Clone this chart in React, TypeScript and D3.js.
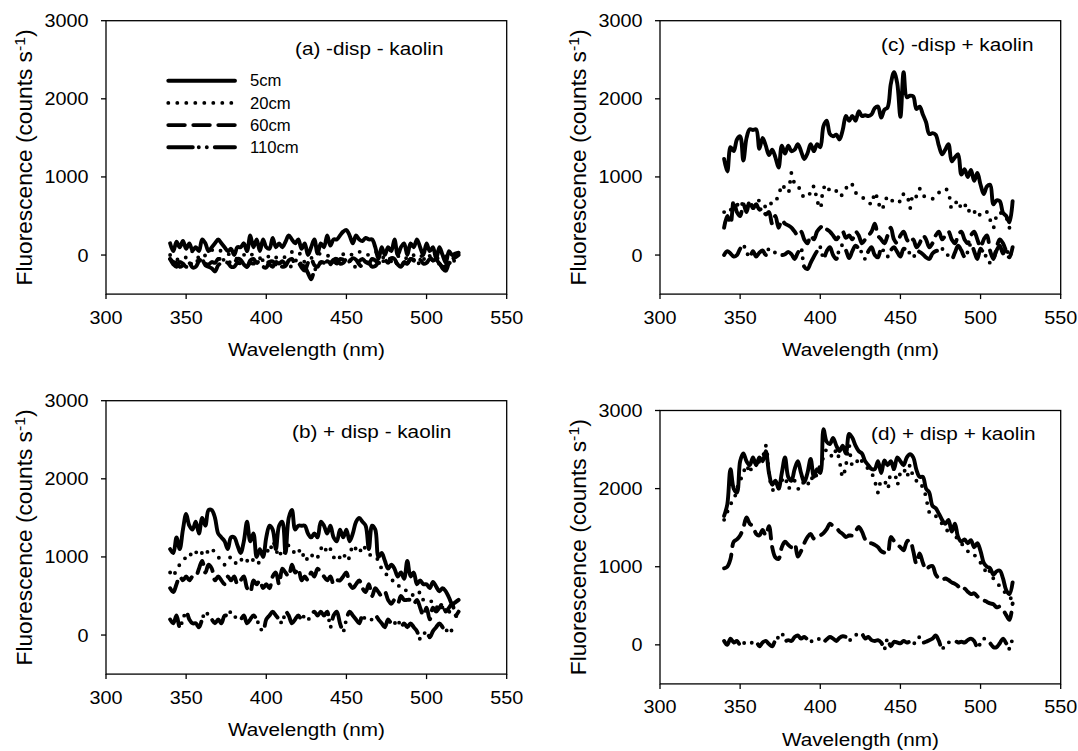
import React from "react";
import * as d3 from "d3";

// Wavelength grid (nm) shared by every series
const WAVELENGTH: number[] = d3.range(340, 521, 2);
const X_TICKS = [300, 350, 400, 450, 500, 550];
const Y_TICKS = [0, 1000, 2000, 3000];
const X_DOMAIN = [300, 550];
const Y_DOMAIN = [-500, 3000];
const DEPTHS = ["5cm", "20cm", "60cm", "110cm"];
const X_LABEL = "Wavelength (nm)";

// (a) -disp - kaolin
const A_5CM = [
  150, 50, 170, 100, 180, 80, 150, 60, 100, 50,
  200, 150, 50, 100, 150, 200, 150, 100, 50, 80,
  0, 100, 100, 150, 50, 250, 100, 200, 50, 200,
  100, 80, 220, 100, 150, 100, 170, 250, 200, 150,
  200, 80, 150, 0, 100, 200, 20, 150, 100, 250,
  120, 200, 200, 250, 300, 320, 250, 150, 250, 200,
  180, 220, 200, 200, 100, -50, 100, 0, 100, 50,
  200, 0, 100, 150, 0, 150, 100, 200, 100, 0,
  150, 50, 100, -50, 100, 0, -100, 50, 0, 20,
  30,
];
const A_20CM = [
  0, -30, -60, -40, -20, -30, 10, 50, 20, -40,
  -50, 0, 30, 60, 80, 70, 50, 40, 20, -10,
  -30, -50, -40, 0, 30, 20, -10, -30, -40, -50,
  -40, -10, 0, -30, -50, -40, -20, 10, 40, 50,
  40, -20, -90, -80, -40, -20, 0, 20, 10, -10,
  0, -30, -50, -20, 10, 30, 20, 0, 20, 40,
  40, 20, 0, 20, 40, 30, -10, -50, -70, -80,
  -60, -20, 0, -20, -50, -40, 0, 20, 0, -30,
  -30, -10, 0, -30, -50, -40, -20, -20, 0, 10,
  20,
];
const A_60CM = [
  -50, -90, -100, -150, -130, -90, -100, -160, -150, -80,
  -50, -110, -120, -90, -100, -50, -60, -90, -100, -150,
  -150, -100, -110, -150, -150, -70, -50, -100, -100, -150,
  -160, -90, -80, -120, -100, -150, -140, -70, -50, -110,
  -100, -160, -200, -100, -50, -130, -150, -90, -100, -140,
  -120, -80, -110, -50, -60, -100, -80, -40, -60, -120,
  -150, -90, -110, -50, -70, -100, -90, -60, -100, -40,
  -50, -130, -150, -90, -110, -50, -70, -100, -60, -110,
  -100, -50, -70, -120, -110, -170, -200, -100, -50, -30,
  0,
];
const A_110CM = [
  -50, -120, -150, -90, -110, -150, -140, -90, -100, -50,
  -60, -130, -150, -170, -210, -130, -100, -50, -60, -110,
  -100, -50, -60, -120, -150, -100, -110, -70, -120, -60,
  -50, -120, -150, -90, -110, -80, -120, -150, -140, -80,
  -50, -130, -150, -230, -310, -200, -150, -100, -120, -80,
  -100, -60, -50, -110, -100, -50, -60, -130, -150, -80,
  -50, -90, -100, -150, -140, -100, -110, -50, -60, -40,
  -60, -120, -150, -100, -110, -50, -60, -90, -110, -50,
  -60, -30, -70, -60, -110, -150, -140, -100, -110, -40,
  0,
];

// (b) + disp - kaolin
const B_5CM = [
  1100, 1050, 1250, 1100, 1350, 1550, 1400, 1350, 1450, 1300,
  1500, 1400, 1600, 1600, 1500, 1300, 1250, 1200, 1100, 1250,
  1250, 1150, 1050, 1200, 1450, 1200, 1300, 1000, 1100, 1000,
  1250, 1400, 1350, 1100, 1400, 1450, 1050, 1500, 1600, 1350,
  1400, 1400, 1400, 1300, 1250, 1300, 1250, 1450, 1400, 1300,
  1400, 1250, 1200, 1350, 1250, 1350, 1200, 1300, 1450, 1500,
  1450, 1400, 1100, 1400, 1350, 1000, 1050, 950, 850, 900,
  850, 750, 800, 720, 950, 750, 800, 650, 700, 650,
  650, 600, 680, 620, 560, 600, 560, 480, 400, 420,
  450,
];
const B_20CM = [
  800, 750, 850, 900, 950, 1000, 1050, 1000, 1050, 1100,
  1050, 1100, 1050, 1100, 1050, 1000, 950, 900, 950, 1000,
  950, 900, 950, 1000, 950, 1000, 950, 900, 950, 1050,
  1100, 1050, 1200, 1100, 1000, 1100, 1050, 1150, 1100, 1050,
  1100, 1000, 1050, 950, 1000, 1050, 1000, 1100, 1150, 1050,
  1100, 1000, 950, 1000, 1050, 950, 1000, 1150, 1100, 1050,
  1150, 1100, 1050, 1000, 1000, 950, 850, 800, 750, 700,
  700, 650, 600, 600, 550, 550, 500, 500, 550, 450,
  450, 450, 400, 350, 400, 350, 300, 300, 250, 250,
  200,
];
const B_60CM = [
  600, 550, 650, 750, 700, 750, 700, 750, 750, 850,
  950, 800, 900, 850, 700, 750, 700, 650, 750, 700,
  750, 650, 700, 750, 600, 550, 700, 650, 700, 600,
  650, 600, 750, 800, 650, 850, 800, 750, 900, 800,
  850, 700, 750, 700, 800, 750, 850, 800, 750, 700,
  750, 650, 700, 700, 750, 800, 650, 600, 650, 700,
  600, 550, 650, 500, 600, 550, 500, 550, 450, 400,
  450, 400, 500, 450, 450, 450, 400, 450, 350, 250,
  350, 200, 350, 300, 350, 400, 300, 350, 400, 250,
  300,
];
const B_110CM = [
  200, 150, 250, 100, 200, 300, 200, 150, 150, 100,
  200, 300, 250, 200, 150, 200, 150, 250, 250, 300,
  250, 200, 200, 250, 150, 200, 250, 200, 100, 50,
  200, 250, 300, 250, 200, 150, 300, 250, 150, 200,
  250, 200, 250, 200, 250, 300, 250, 300, 250, 300,
  100, 250, 300, 150, 50, 200, 300, 250, 200, 150,
  250, 200, 200, 200, 250, 200, 150, 100, 200, 150,
  150, 200, 100, 150, 100, 150, 100, 50, -50, 0,
  50, -30, 50, 100, 150, 100, 50, 100, 50, 50,
  30,
];

// (c) -disp + kaolin
const C_5CM = [
  1230, 1070, 1380, 1330, 1480, 1520, 1210, 1500, 1610, 1600,
  1610, 1360, 1500, 1400, 1280, 1350, 1250, 1120, 1400, 1300,
  1400, 1330, 1350, 1420, 1330, 1230, 1300, 1420, 1330, 1420,
  1380, 1650, 1720, 1550, 1520, 1540, 1480, 1600, 1780, 1720,
  1780, 1720, 1840, 1780, 1790, 1780, 1800, 1880, 1900, 1760,
  1860, 1890, 2190, 2340, 2200, 1770, 2340, 2020, 2040, 2030,
  1870, 1900, 1800, 1700, 1550, 1560, 1540, 1400, 1290, 1350,
  1420, 1200, 1250, 1290, 1030, 1100, 1000, 1090, 950, 1050,
  900, 780, 880, 900, 650, 700, 690, 540, 500, 420,
  690,
];
const C_20CM = [
  550, 600, 580, 620, 650, 600, 680, 620, 650, 600,
  640, 700, 650, 620, 680, 650, 700, 750, 900, 850,
  800, 1050, 920, 900, 780, 750, 800, 780, 880, 700,
  600, 850, 900, 820, 800, 820, 750, 780, 850, 920,
  900, 800, 780, 750, 700, 680, 650, 800, 700, 580,
  650, 750, 700, 700, 720, 680, 780, 770, 600, 780,
  750, 850, 760, 750, 730, 720, 750, 800, 820, 850,
  800, 600, 650, 700, 600, 650, 550, 600, 550, 580,
  500, 520, 550, 450, 350, 500, 550, 500, 480, 350,
  450,
];
const C_60CM = [
  350, 500, 400, 700, 550, 500, 650, 550, 700, 600,
  650, 580, 600, 520, 550, 400, 500, 350, 450, 400,
  380, 350, 300, 250, 300, 200, 150, 250, 200, 300,
  350, 380, 330, 300, 250, 200, 250, 300, 220, 250,
  200, 300, 250, 150, 200, 250, 300, 400, 250, 200,
  150, 250, 350, 200, 150, 250, 300, 200, 150, 200,
  100, 150, 250, 200, 100, 150, 250, 300, 200, 250,
  300, 200, 150, 250, 300, 200, 150, 250, 300, 200,
  100, 200, 250, 50, -50, 100, 200, 150, 50, -30,
  100,
];
const C_110CM = [
  0, 50, 20, -20, 0, 80, 120, 40, -30, 50,
  -20, 30, 60, 0, 80, 60, 30, 20, 0, 10,
  40, 10, -50, 30, 80, -150, -180, -100, -20, 50,
  100, -50, 50, 100, 0, -50, 80, 130, 60, -40,
  50, 120, 80, 30, -50, 50, 100, 0, -30, 80,
  40, -20, 60, 100, 40, -20, 80, 60, 20, -30,
  50, 40, 10, -30, -50, 20, 50, 60, 80, 30,
  -10, -50, 30, 120, 60, -20, 40, 150, 50, -50,
  80, 20, -30, -100, -50, 60, 120, 20, 80, -20,
  100,
];

// (d) + disp + kaolin
const D_5CM = [
  1650, 1800, 2250, 2000, 1950, 2350, 2450, 2350, 2300, 2400,
  2300, 2400, 2350, 2480, 2200, 2050, 2100, 2000, 2200, 2400,
  2150, 2100, 2250, 2350, 2200, 2080, 2200, 2380, 2150, 2250,
  2200, 2760, 2600, 2570, 2650, 2550, 2480, 2550, 2450, 2700,
  2650, 2550, 2480, 2450, 2350, 2300, 2250, 2250, 2350, 2200,
  2360, 2300, 2350, 2250, 2400, 2350, 2300, 2400, 2440, 2400,
  2240, 2150, 2150, 2000, 1950, 1780, 1750, 1680, 1600, 1550,
  1600, 1450, 1550, 1380, 1320, 1350, 1300, 1340, 1250, 1300,
  1200, 1050, 1000, 980, 900, 940, 950, 850, 700, 650,
  800,
];
const D_20CM = [
  1600, 1700, 1800, 1850, 2000, 2100, 2200, 2300, 2200, 2350,
  2300, 2350, 2400, 2550, 2200, 2000, 1950, 2000, 2100, 2150,
  2000, 2050, 2100, 2000, 2000, 2100, 2050, 2150, 2100, 2200,
  2300, 2400, 2500, 2450, 2400, 2500, 2350, 2150, 2300, 2550,
  2300, 2300, 2400, 2350, 2300, 2250, 2200, 2100, 1950, 2100,
  2100, 2000, 2200, 2250, 2050, 2200, 2250, 2150, 2300, 2150,
  2100, 2100, 2000, 1900, 1700, 1700, 1650, 1600, 1550, 1500,
  1450, 1500, 1400, 1350, 1300, 1250, 1200, 1150, 1150, 1100,
  1050, 1000, 900, 950, 850, 800, 750, 700, 650, 600,
  600,
];
const D_60CM = [
  980, 1000, 1100, 1320, 1350, 1400, 1500, 1630, 1550, 1520,
  1420, 1400, 1470, 1400, 1520, 1250, 1120, 1100, 1250, 1320,
  1280, 1250, 1290, 1130, 1200, 1300, 1380, 1420, 1360, 1380,
  1400, 1430, 1480, 1550, 1520, 1500, 1450, 1420, 1380, 1400,
  1400, 1450, 1510, 1450, 1350, 1300, 1300, 1280, 1250, 1200,
  1180, 1170, 1380, 1330, 1280, 1250, 1210, 1320, 1340, 1200,
  1040, 1170, 1050, 960, 1000, 1010, 900, 850, 830, 850,
  830, 800, 780, 750, 700, 720, 680, 650, 660, 620,
  580, 570, 550, 530, 520, 480, 490, 450, 380, 320,
  530,
];
const D_110CM = [
  50, 0, 80, 30, 50, 0, 20, 30, 40, 20,
  40, -20, 30, 50, 10, -20, 60, 100, 150, 50,
  60, 50, 100, 120, 80, 100, 70, 50, 40, 60,
  80, 40, 70, 100, 80, 50, 90, 110, 100, 60,
  80, 120, 150, 140, 80, 100, 60, 50, 60, 30,
  -50, 80, -20, 40, 30, 20, 50, 30, 40, 20,
  30, 100, 30, 40, 60, 80, 120, 50, -50, 0,
  30, 40, 50, 30, 40, 30, 60, 80, 50, -30,
  20, 80, 50, 20, -30, -30, 20, 80, 20, -50,
  100,
];

// ---------- layout & style (not data) ----------
const W = 1078;
const H = 751;
const PW = 400.7;
const PH = 273.4;
const FONT = "'Liberation Sans', Arial, Helvetica, sans-serif";
const STROKES = [
  { dash: undefined },
  { dash: "0 9" },
  { dash: "16.5 8.5" },
  { dash: "24.5 6 0 8 0 8" },
];
const LINE_W = 3.9;

const PANELS = [
  { title: "(a) -disp - kaolin", data: [A_5CM, A_20CM, A_60CM, A_110CM], left: 106, top: 20.7, tx: 295, ty: 55, legend: true },
  { title: "(b) + disp - kaolin", data: [B_5CM, B_20CM, B_60CM, B_110CM], left: 106, top: 400.7, tx: 292, ty: 438, legend: false },
  { title: "(c) -disp + kaolin", data: [C_5CM, C_20CM, C_60CM, C_110CM], left: 660, top: 20.7, tx: 881, ty: 51, legend: false },
  { title: "(d) + disp + kaolin", data: [D_5CM, D_20CM, D_60CM, D_110CM], left: 660, top: 410.5, tx: 871, ty: 439.5, legend: false },
];

function Panel({ p }: { p: (typeof PANELS)[number] }) {
  const x = d3.scaleLinear().domain(X_DOMAIN).range([p.left, p.left + PW]);
  const y = d3.scaleLinear().domain(Y_DOMAIN).range([p.top + PH, p.top]);
  const line = d3
    .line<number>()
    .x((_, i) => x(WAVELENGTH[i]))
    .y((v) => y(v))
    .curve(d3.curveCatmullRom.alpha(0.5));
  const bottom = p.top + PH;
  const cx = p.left + PW / 2;
  const cy = p.top + PH / 2;
  return (
    <g>
      {p.data.map((s, k) => (
        <path
          key={k}
          d={line(s) || ""}
          fill="none"
          stroke="#000"
          strokeWidth={LINE_W}
          strokeLinecap="round"
          strokeLinejoin="round"
          strokeDasharray={STROKES[k].dash}
        />
      ))}
      <rect x={p.left} y={p.top} width={PW} height={PH} fill="none" stroke="#000" strokeWidth={1.3} />
      {X_TICKS.map((t) => (
        <g key={"x" + t}>
          <line x1={x(t)} x2={x(t)} y1={bottom} y2={bottom + 5} stroke="#000" strokeWidth={1.3} />
          <text
            transform={`translate(${x(t)},${bottom + 29.5}) scale(1.1,1)`}
            textAnchor="middle"
            fontSize={18}
            fontFamily={FONT}
            fill="#000"
          >
            {t}
          </text>
        </g>
      ))}
      {Y_TICKS.map((t) => (
        <g key={"y" + t}>
          <line x1={p.left - 5} x2={p.left} y1={y(t)} y2={y(t)} stroke="#000" strokeWidth={1.3} />
          <text
            transform={`translate(${p.left - 17.5},${y(t)}) scale(1.1,1)`}
            textAnchor="end"
            dy="0.36em"
            fontSize={18}
            fontFamily={FONT}
            fill="#000"
          >
            {t}
          </text>
        </g>
      ))}
      <text
        transform={`translate(${cx},${bottom + 62}) scale(1.12,1)`}
        textAnchor="middle"
        fontSize={18.5}
        fontFamily={FONT}
        fill="#000"
      >
        {X_LABEL}
      </text>
      <text
        transform={`translate(${p.left - 74},${cy}) rotate(-90)`}
        textAnchor="middle"
        fontSize={21.5}
        fontFamily={FONT}
        fill="#000"
        textLength={256}
        lengthAdjust="spacingAndGlyphs"
      >
        Fluorescence (counts s
        <tspan dy="-0.45em" fontSize="0.7em">-1</tspan>
        <tspan dy="0.32em">)</tspan>
      </text>
      <text
        transform={`translate(${p.tx},${p.ty}) scale(1.12,1)`}
        fontSize={18.5}
        fontFamily={FONT}
        fill="#000"
      >
        {p.title}
      </text>
      {p.legend &&
        DEPTHS.map((d, k) => {
          const ly = 80.7 + k * 22.2;
          return (
            <g key={d}>
              <line
                x1={168.3}
                x2={235}
                y1={ly}
                y2={ly}
                stroke="#000"
                strokeWidth={LINE_W}
                strokeLinecap="round"
                strokeDasharray={STROKES[k].dash}
              />
              <text
                transform={`translate(250,${ly}) scale(1.04,1)`}
                dy="0.36em"
                fontSize={16}
                fontFamily={FONT}
                fill="#000"
              >
                {d}
              </text>
            </g>
          );
        })}
    </g>
  );
}

export default function App() {
  return (
    <svg
      width={W}
      height={H}
      viewBox={`0 0 ${W} ${H}`}
      style={{ position: "absolute", left: 0, top: 0, background: "#fff" }}
    >
      <rect width={W} height={H} fill="#fff" />
      {PANELS.map((p, i) => (
        <Panel key={i} p={p} />
      ))}
    </svg>
  );
}
